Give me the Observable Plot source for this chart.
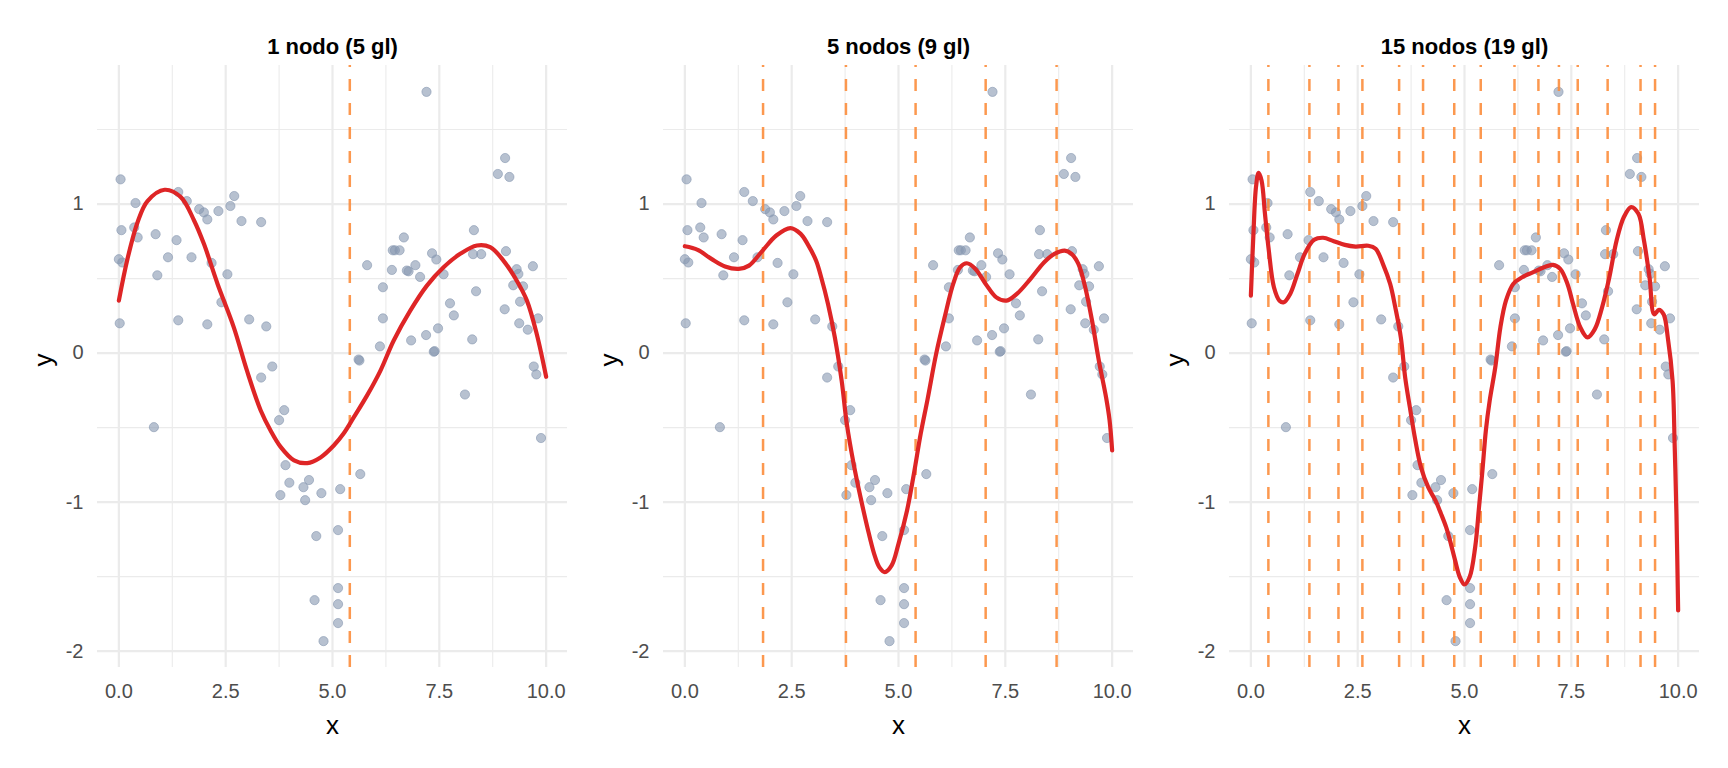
<!DOCTYPE html>
<html><head><meta charset="utf-8">
<script src="https://cdn.jsdelivr.net/npm/d3@7"></script>
<script src="https://cdn.jsdelivr.net/npm/@observablehq/plot@0.6"></script>
<style>
html,body{margin:0;padding:0;background:#fff}
body{width:1728px;height:768px;overflow:hidden;position:relative;font-family:"Liberation Sans",Arial,sans-serif}
.panel{position:absolute;top:0}
</style></head><body>
<div id="root"></div>
<script>
// Observations (same data in all panels)
const xs = [0.04,0.06,0.00,0.08,0.02,0.39,0.36,0.44,0.86,0.90,1.15,1.35,1.39,1.59,1.39,1.70,1.88,1.99,2.07,2.07,2.17,2.33,2.40,2.54,2.61,2.70,2.87,3.05,3.33,3.45,3.59,3.33,
5.61,5.63,5.81,6.18,6.18,6.11,6.39,6.41,6.46,6.57,6.67,6.74,6.78,6.94,7.05,6.84,7.20,7.19,7.33,7.43,7.60,7.47,7.37,7.39,7.75,7.84,8.10,8.31,8.29,8.48,8.36,8.27,8.87,9.04,9.14,9.06,9.03,9.31,9.35,9.23,9.46,9.39,9.37,9.57,9.69,9.81,9.71,9.77,
0.82,3.87,3.75,9.88,3.90,3.99,4.45,4.32,3.78,4.36,4.74,5.18,5.65,4.62,5.13,5.13,4.58,5.13,5.13,4.79];
const ys = [1.166,0.825,0.630,0.608,0.200,1.007,0.843,0.776,0.798,0.522,0.643,0.758,1.081,1.020,0.220,0.643,0.966,0.944,0.897,0.193,0.605,0.953,0.341,0.529,0.987,1.054,0.886,0.226,0.879,0.179,-0.090,-0.164,
-0.043,-0.050,0.590,0.442,0.233,0.045,0.558,0.690,0.690,0.690,0.776,0.554,0.549,0.590,0.511,0.085,1.753,0.121,0.670,0.628,0.529,0.166,0.009,0.013,0.334,0.253,-0.278,0.825,0.664,0.664,0.415,0.092,1.202,1.309,1.182,0.684,0.294,0.563,0.531,0.455,0.448,0.345,0.200,0.157,0.583,0.233,-0.090,-0.143,
-0.497,-0.383,-0.450,-0.570,-0.752,-0.870,-0.852,-0.900,-0.953,-0.987,-0.940,-0.913,-0.812,-1.228,-1.188,-1.577,-1.658,-1.685,-1.812,-1.933];

// Knots for each panel
const knots1 = [5.405];
const knots5 = [1.83, 3.77, 5.40, 7.04, 8.70];
const knots15 = [0.41, 1.37, 2.05, 2.61, 3.47, 4.03, 4.76, 5.38, 6.17, 6.73, 7.21, 7.65, 8.35, 9.12, 9.46];

// Fitted spline curves
const fit1x = [0,0.2,0.44,0.67,1.07,1.45,1.76,1.99,2.31,2.69,3.0,3.32,3.55,3.79,4.10,4.41,4.72,5.03,5.26,5.50,5.81,6.12,6.43,6.82,7.21,7.60,7.99,8.38,8.69,9.0,9.31,9.55,9.78,10];
const fit1y = [0.352,0.63,0.88,1.02,1.096,1.047,0.89,0.733,0.464,0.173,-0.12,-0.385,-0.519,-0.631,-0.72,-0.738,-0.70,-0.62,-0.54,-0.43,-0.284,-0.119,0.083,0.285,0.453,0.576,0.666,0.722,0.711,0.621,0.487,0.352,0.128,-0.159];
const fit5x = [0,0.30,0.62,0.94,1.26,1.50,1.82,2.14,2.47,2.71,2.87,3.07,3.19,3.35,3.51,3.67,3.79,3.95,4.11,4.27,4.43,4.55,4.68,4.84,5.0,5.20,5.36,5.52,5.68,5.88,6.08,6.28,6.44,6.60,6.80,7.04,7.29,7.53,7.77,8.09,8.41,8.65,8.89,9.05,9.21,9.37,9.53,9.69,9.86,9.94,10];
const fit5y = [0.717,0.693,0.632,0.581,0.565,0.587,0.688,0.789,0.839,0.80,0.733,0.621,0.509,0.33,0.105,-0.186,-0.474,-0.743,-0.966,-1.168,-1.347,-1.436,-1.47,-1.425,-1.28,-1.056,-0.81,-0.541,-0.31,-0.007,0.24,0.464,0.576,0.603,0.565,0.464,0.374,0.352,0.397,0.498,0.61,0.666,0.688,0.666,0.599,0.442,0.217,-0.052,-0.30,-0.45,-0.653];
const fit15x = [0,0.06,0.12,0.18,0.25,0.33,0.42,0.54,0.67,0.77,0.92,1.09,1.26,1.48,1.69,1.94,2.20,2.45,2.75,2.92,3.09,3.26,3.38,3.51,3.61,3.72,3.85,3.98,4.15,4.32,4.45,4.57,4.66,4.78,4.89,5.0,5.12,5.25,5.34,5.42,5.50,5.59,5.72,5.84,5.97,6.14,6.35,6.61,6.86,7.07,7.24,7.41,7.54,7.71,7.88,8.05,8.22,8.39,8.56,8.73,8.90,9.07,9.20,9.33,9.44,9.55,9.66,9.76,9.87,9.92,9.96,10];
const fit15y = [0.386,0.80,1.114,1.209,1.159,0.935,0.688,0.442,0.352,0.341,0.397,0.531,0.666,0.76,0.774,0.751,0.726,0.715,0.72,0.70,0.599,0.464,0.307,0.105,-0.16,-0.362,-0.586,-0.765,-0.90,-0.989,-1.078,-1.168,-1.257,-1.391,-1.503,-1.553,-1.503,-1.302,-1.034,-0.787,-0.519,-0.318,-0.096,0.173,0.352,0.464,0.509,0.543,0.576,0.592,0.565,0.464,0.33,0.173,0.105,0.161,0.307,0.509,0.756,0.913,0.98,0.935,0.756,0.509,0.26,0.29,0.26,0.10,-0.186,-0.631,-1.078,-1.727];

const titles = ["1 nodo (5 gl)", "5 nodos (9 gl)", "15 nodos (19 gl)"];
const xTicks = [0, 2.5, 5, 7.5, 10];
const xTickLabels = ["0.0", "2.5", "5.0", "7.5", "10.0"];
const xMinor = [1.25, 3.75, 6.25, 8.75];
const yTicks = [-2, -1, 0, 1];
const yTickLabels = ["-2", "-1", "0", "1"];
const yMinor = [-1.5, -0.5, 0.5, 1.5];

const points = xs.map((x, i) => ({x, y: ys[i]}));
const fits = [[fit1x, fit1y], [fit5x, fit5y], [fit15x, fit15y]].map(([fx, fy]) => fx.map((x, i) => ({x, y: fy[i]})));
const knots = [knots1, knots5, knots15];
const lefts = [0, 566, 1132];

const FONT = '"Liberation Sans", Arial, sans-serif';
const root = document.getElementById("root");

for (let p = 0; p < 3; p++) {
  const chart = Plot.plot({
    width: 567, height: 768,
    marginLeft: 97, marginRight: 0, marginTop: 65, marginBottom: 101,
    style: {fontFamily: FONT, background: "transparent", maxWidth: "none", overflow: "visible"},
    x: {domain: [-0.5, 10.5]},
    y: {domain: [-2.11, 1.93]},
    marks: [
      Plot.gridX(xMinor, {stroke: "#EBEBEB", strokeOpacity: 1, strokeWidth: 1.1}),
      Plot.gridY(yMinor, {stroke: "#EBEBEB", strokeOpacity: 1, strokeWidth: 1.1}),
      Plot.gridX(xTicks, {stroke: "#EBEBEB", strokeOpacity: 1, strokeWidth: 2.2}),
      Plot.gridY(yTicks, {stroke: "#EBEBEB", strokeOpacity: 1, strokeWidth: 2.2}),
      Plot.axisX(xTicks, {tickSize: 0, tickPadding: 16, tickFormat: d => xTickLabels[xTicks.indexOf(d)], fontSize: 20, fill: "#4D4D4D", label: null}),
      Plot.axisY(yTicks, {tickSize: 0, tickPadding: 14, tickFormat: d => yTickLabels[yTicks.indexOf(d)], fontSize: 20, fill: "#4D4D4D", label: null}),
      Plot.dot(points, {x: "x", y: "y", r: 4.6, fill: "#8797B0", fillOpacity: 0.6, stroke: "#8797B0", strokeOpacity: 0.6, strokeWidth: 1}),
      Plot.ruleX(knots[p], {stroke: "#FC8D3C", strokeOpacity: 0.9, strokeWidth: 2.5, strokeDasharray: "12,12", strokeDashoffset: 10}),
      Plot.line(fits[p], {x: "x", y: "y", stroke: "#DE2526", strokeWidth: 4.2, curve: "catmull-rom"}),
      Plot.text([titles[p]], {frameAnchor: "top", dy: -27, fontWeight: "bold", fontSize: 22, fill: "black"}),
      Plot.text(["x"], {frameAnchor: "bottom", dy: 66, fontSize: 26, fill: "black"}),
      Plot.text(["y"], {frameAnchor: "left", dx: -54, rotate: -90, fontSize: 26, fill: "black"})
    ]
  });
  const wrap = document.createElement("div");
  wrap.className = "panel";
  wrap.style.left = lefts[p] + "px";
  wrap.appendChild(chart);
  root.appendChild(wrap);
}
</script>
</body></html>
